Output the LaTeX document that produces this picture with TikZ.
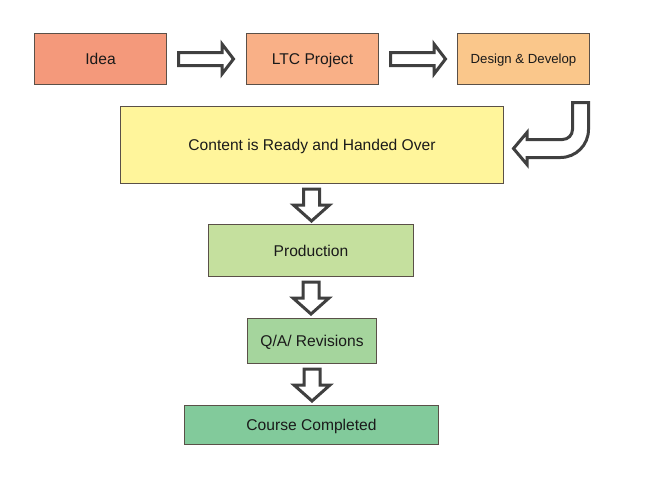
\documentclass[tikz,border=0pt]{standalone}
\usepackage{fontspec}
\setmainfont{Liberation Sans}
\usetikzlibrary{calc}
\definecolor{boxline}{HTML}{5A5048}
\definecolor{arrowline}{HTML}{404040}
\definecolor{txt}{HTML}{1A1A1A}
\definecolor{cIdea}{HTML}{F4997B}
\definecolor{cLtc}{HTML}{F9B087}
\definecolor{cDesign}{HTML}{FAC78B}
\definecolor{cContent}{HTML}{FFF59B}
\definecolor{cProd}{HTML}{C5E09E}
\definecolor{cQa}{HTML}{A5D59D}
\definecolor{cCourse}{HTML}{82CA9B}
\tikzset{
  box/.style={draw=boxline, line width=0.75pt, inner sep=0pt, anchor=north west,
    font=\fontsize{11.7}{13}\selectfont, text=txt, text height=8.4pt, text depth=0pt},
  blockarrow/.style={draw=arrowline, fill=white, line width=2.25pt, line join=miter},
  rarrow/.pic={\draw[blockarrow] (0,-6.5) -- (43.5,-6.5) -- (43.5,-15) -- (55,0) -- (43.5,15) -- (43.5,6.5) -- (0,6.5) -- cycle;},
  darrow/.pic={\draw[blockarrow] (-8,0) -- (8,0) -- (8,16) -- (18,16) -- (0,32) -- (-18,16) -- (-8,16) -- cycle;}
}
\begin{document}
\begin{tikzpicture}[x=0.75pt,y=-0.75pt]
\useasboundingbox[fill=white] (0,0) rectangle (667,500);
\node[box, fill=cIdea, minimum width=99pt, minimum height=38.25pt] (idea) at (34,33) {Idea};
\node[box, fill=cLtc, minimum width=99pt, minimum height=38.25pt] (ltc) at (246,33) {LTC Project};
\node[box, fill=cDesign, minimum width=99pt, minimum height=38.25pt, font=\fontsize{9.9}{11}\selectfont, text height=7.1pt] (design) at (457,33) {Design \& Develop};
\node[box, fill=cContent, minimum width=287.25pt, minimum height=57.75pt] (content) at (120,106) {Content is Ready and Handed Over};
\node[box, fill=cProd, minimum width=153.75pt, minimum height=39pt] (prod) at (208,224) {Production};
\node[box, fill=cQa, minimum width=96.75pt, minimum height=33.75pt] (qa) at (247,318) {Q/A/ Revisions};
\node[box, fill=cCourse, minimum width=190.5pt, minimum height=29.25pt] (course) at (184,405) {Course Completed};

\pic at ($(idea.east)+(11.5,0)$) {rarrow};
\pic at ($(ltc.east)+(11.5,0)$) {rarrow};
\pic at ($(content.south)+(-0.5,5)$) {darrow};
\pic at ($(prod.south)+(0,5)$) {darrow};
\pic at ($(qa.south)+(0,5)$) {darrow};

\coordinate (bt) at ($(design.south east)+(-1.5,17.5)$);
\draw[blockarrow] (bt) -- ++(0,27) arc[start angle=0,end angle=90,radius=28]
  -- ++(-33.5,0) -- ++(0,7) -- ++(-13.5,-16) -- ++(13.5,-16) -- ++(0,7)
  -- ++(35.5,0) arc[start angle=90,end angle=0,radius=10] -- ++(0,-27) -- cycle;
\end{tikzpicture}
\end{document}
